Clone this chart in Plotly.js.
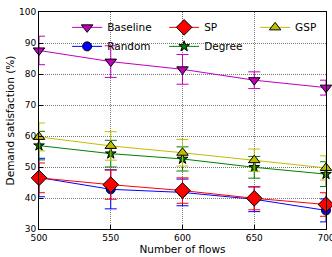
<!DOCTYPE html>
<html><head><meta charset="utf-8">
<script src="https://cdn.plot.ly/plotly-3.0.1.min.js"></script>
<style>html,body{margin:0;padding:0;background:#fff}#chart{width:332px;height:257px}</style>
</head><body><div id="chart"></div>
<script>
const flows = [500, 550, 600, 650, 700];
const baseline = [87.6, 84.0, 81.5, 78.0, 75.6];
const baselineErr = [4.6, 5.1, 4.8, 2.7, 2.4];
const random = [46.6, 42.8, 41.8, 39.6, 36.0];
const randomErr = [6.2, 6.3, 4.3, 4.0, 3.7];
const sp = [46.5, 44.3, 42.4, 39.9, 37.9];
const spErr = [4.8, 4.7, 4.1, 3.7, 3.8];
const degree = [56.9, 54.3, 52.6, 49.9, 47.7];
const degreeErr = [4.6, 4.3, 3.9, 3.5, 4.0];
const gsp = [59.7, 56.8, 54.6, 52.2, 49.7];
const gspErr = [4.5, 4.6, 4.3, 3.6, 3.9];

function tr(name, y, err, color, symbol, size, leg) {
  return {
    x: flows, y: y, name: name, type: 'scatter', mode: 'lines+markers',
    legend: leg,
    line: {color: color, width: 1},
    marker: {color: color, symbol: symbol, size: size, line: {color: '#000', width: 1}},
    error_y: {type: 'data', array: err, visible: true, color: color, thickness: 1, width: 6},
    cliponaxis: false
  };
}
const traces = [
  tr('Baseline', baseline, baselineErr, '#BF00BF', 'triangle-down', 10, 'legend'),
  tr('Random', random, randomErr, '#0000FF', 'circle', 9, 'legend'),
  tr('SP', sp, spErr, '#FF0000', 'diamond', 12, 'legend2'),
  tr('Degree', degree, degreeErr, '#008000', 'star', 8, 'legend2'),
  tr('GSP', gsp, gspErr, '#BFBF00', 'triangle-up', 10, 'legend3')
];
function leg(x) {
  return {
    orientation: 'v', x: x, y: 0.996, xanchor: 'left', yanchor: 'top',
    bgcolor: 'rgba(0,0,0,0)', font: {family: 'DejaVu Sans', size: 10.5, color: '#000'},
    tracegroupgap: 0, traceorder: 'normal'
  };
}
const layout = {
  width: 332, height: 257,
  margin: {l: 39, r: 6, t: 12, b: 28},
  paper_bgcolor: '#fff', plot_bgcolor: '#fff',
  font: {family: 'DejaVu Sans', size: 10, color: '#000'},
  showlegend: true,
  legend: leg(0.098),
  legend2: leg(0.436),
  legend3: leg(0.753),
  xaxis: {
    range: [500, 700], tickvals: flows, ticktext: flows.map(String),
    ticklabeloverflow: 'allow',
    showgrid: true, gridcolor: '#777', griddash: '1px,1px', gridwidth: 1,
    showline: true, mirror: true, linecolor: '#000', linewidth: 1,
    ticks: 'inside', ticklen: 4, tickcolor: '#000', zeroline: false,
    title: {text: 'Number of flows', font: {family: 'DejaVu Sans', size: 10.5}, standoff: 3},
    tickfont: {family: 'DejaVu Sans', size: 9}
  },
  yaxis: {
    range: [30, 100], dtick: 10,
    showgrid: true, gridcolor: '#777', griddash: '1px,1px', gridwidth: 1,
    showline: true, mirror: true, linecolor: '#000', linewidth: 1,
    ticks: 'inside', ticklen: 4, tickcolor: '#000', zeroline: false,
    title: {text: 'Demand satisfaction (%)', font: {family: 'DejaVu Sans', size: 10.5}, standoff: 2},
    tickfont: {family: 'DejaVu Sans', size: 9}
  }
};
Plotly.newPlot('chart', traces, layout, {displayModeBar: false, staticPlot: true});
</script></body></html>
